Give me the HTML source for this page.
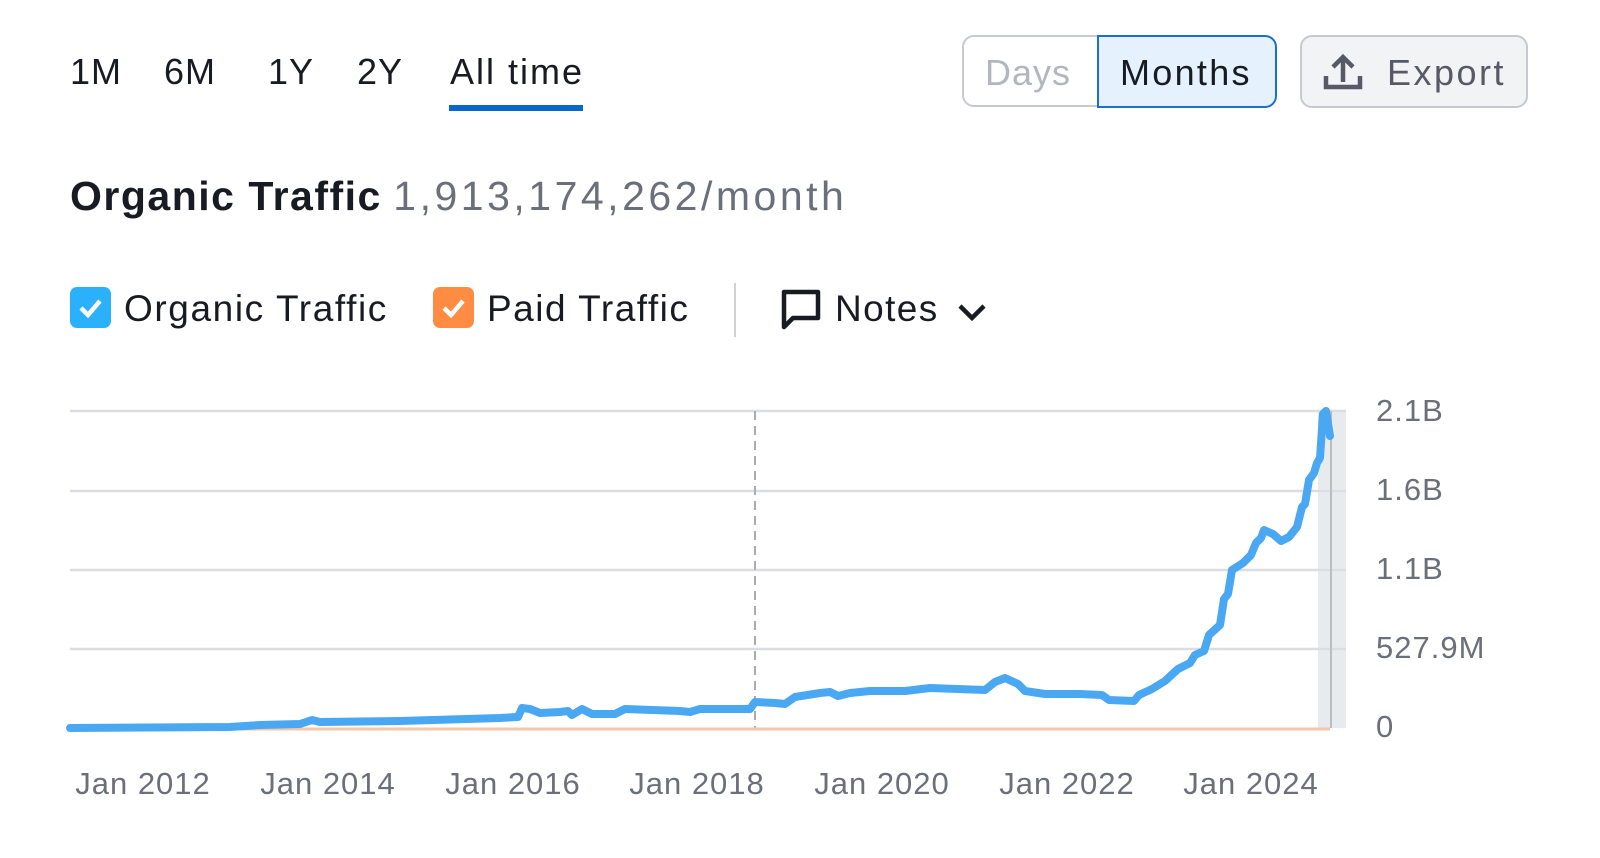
<!DOCTYPE html>
<html><head><meta charset="utf-8"><style>
body{margin:0;width:1600px;height:858px;background:#fff;font-family:"Liberation Sans",sans-serif;position:relative;overflow:hidden;color:#191b23}
.a{position:absolute;white-space:nowrap}
</style></head><body>
<div class="a" style="left:70px;top:50px;font-size:36px;line-height:44px;letter-spacing:1px">1M</div>
<div class="a" style="left:164px;top:50px;font-size:36px;line-height:44px;letter-spacing:1px">6M</div>
<div class="a" style="left:268px;top:50px;font-size:36px;line-height:44px;letter-spacing:1px">1Y</div>
<div class="a" style="left:357px;top:50px;font-size:36px;line-height:44px;letter-spacing:1px">2Y</div>
<div class="a" style="left:450px;top:50px;font-size:36px;line-height:44px;letter-spacing:2px">All time</div>
<div class="a" style="left:449px;top:105px;width:134px;height:6px;background:#0a66c8"></div>

<div class="a" style="left:962px;top:35px;width:313px;height:72px;border:2px solid #c6c9cf;border-radius:12px;box-sizing:border-box"></div>
<div class="a" style="left:1097px;top:35px;width:180px;height:73px;border:2px solid #1a6fd0;border-radius:0 12px 12px 0;background:#e5f2fd;box-sizing:border-box"></div>
<div class="a" style="left:985px;top:51px;font-size:36px;line-height:44px;color:#b3b6bd;letter-spacing:1px">Days</div>
<div class="a" style="left:1120px;top:51px;font-size:36px;line-height:44px;letter-spacing:2.3px">Months</div>
<div class="a" style="left:1300px;top:35px;width:228px;height:73px;border:2px solid #c6c9cf;border-radius:12px;background:#f2f3f5;box-sizing:border-box"></div>
<svg class="a" style="left:1322px;top:52px" width="42" height="40" viewBox="0 0 42 40"><path d="M21 30V6M11 15l10-10 10 10M4 24v11h34V24" fill="none" stroke="#555a66" stroke-width="4.5"/></svg>
<div class="a" style="left:1387px;top:51px;font-size:36px;line-height:44px;color:#555a66;letter-spacing:2.5px">Export</div>

<div class="a" style="left:70px;top:172px;font-size:41px;line-height:48px"><b style="letter-spacing:1.5px">Organic Traffic</b> <span style="color:#6b6f7a;letter-spacing:3.5px">1,913,174,262/month</span></div>

<div class="a" style="left:70px;top:287px;width:41px;height:41px;border-radius:7px;background:#2bb0fb"></div>
<svg class="a" style="left:70px;top:287px" width="41" height="41"><path d="M11 21l7 7 12-14" fill="none" stroke="#fff" stroke-width="4.5"/></svg>
<div class="a" style="left:124px;top:287px;font-size:37px;line-height:44px;letter-spacing:1.6px">Organic Traffic</div>
<div class="a" style="left:433px;top:287px;width:41px;height:41px;border-radius:7px;background:#ff8c42"></div>
<svg class="a" style="left:433px;top:287px" width="41" height="41"><path d="M11 21l7 7 12-14" fill="none" stroke="#fff" stroke-width="4.5"/></svg>
<div class="a" style="left:487px;top:287px;font-size:37px;line-height:44px;letter-spacing:1.5px">Paid Traffic</div>
<div class="a" style="left:734px;top:283px;width:2px;height:54px;background:#d0d2d6"></div>
<svg class="a" style="left:780px;top:288px" width="42" height="42"><path d="M4 4h34v26H13l-9 9z" fill="none" stroke="#191b23" stroke-width="4.5" stroke-linejoin="round"/></svg>
<div class="a" style="left:835px;top:287px;font-size:37px;line-height:44px;letter-spacing:1.4px">Notes</div>
<svg class="a" style="left:957px;top:302px" width="30" height="20"><path d="M3 4l12 12 12-12" fill="none" stroke="#191b23" stroke-width="4.5"/></svg>

<svg class="a" style="left:0;top:0" width="1600" height="858">
<rect x="1318" y="411" width="28" height="317" fill="#e8ebee"/>
<g stroke="#dcdde3" stroke-width="2.5">
<line x1="70" y1="411" x2="1346" y2="411"/><line x1="70" y1="491" x2="1346" y2="491"/><line x1="70" y1="570" x2="1346" y2="570"/><line x1="70" y1="649" x2="1346" y2="649"/></g>
<line x1="755" y1="411" x2="755" y2="730" stroke="#a9acb3" stroke-width="2" stroke-dasharray="9,6"/>
<line x1="1331" y1="411" x2="1331" y2="728" stroke="#b8bdc3" stroke-width="2"/>
<line x1="70" y1="729" x2="1330" y2="729" stroke="#f5c6a8" stroke-width="3"/>
<polyline fill="none" stroke="#4aa8f2" stroke-width="8" stroke-linejoin="round" stroke-linecap="round" points="70,728 230,727 260,725 300,724 312,720 320,722 400,721 500,718 518,717 522,708 530,709 540,713 560,712 568,711 572,715 582,709 592,714 615,714 625,709 680,711 690,712 700,709 750,709 755,702 775,703 785,704 795,697 820,693 830,692 838,696 850,693 870,691 905,691 930,688 985,690 995,682 1005,678 1018,684 1025,691 1045,694 1080,694 1102,695 1109,700 1134,701 1139,695 1152,689 1165,681 1178,669 1190,663 1195,655 1204,651 1209,635 1220,625 1224,599 1228,594 1232,570 1243,563 1251,555 1256,543 1261,538 1264,530 1273,534 1281,541 1289,537 1297,527 1302,507 1305,504 1309,480 1314,473 1317,463 1320,458 1323,414 1326,411 1330,436"/>
<g font-family="Liberation Sans, sans-serif" font-size="31" fill="#6b6f7a" letter-spacing="1">
<text x="1376" y="421">2.1B</text><text x="1376" y="500">1.6B</text><text x="1376" y="579">1.1B</text><text x="1376" y="658">527.9M</text><text x="1376" y="737">0</text>
<g text-anchor="middle"><text x="143" y="794">Jan 2012</text><text x="328" y="794">Jan 2014</text><text x="513" y="794">Jan 2016</text><text x="697" y="794">Jan 2018</text><text x="882" y="794">Jan 2020</text><text x="1067" y="794">Jan 2022</text><text x="1251" y="794">Jan 2024</text></g>
</g>
</svg>
</body></html>
